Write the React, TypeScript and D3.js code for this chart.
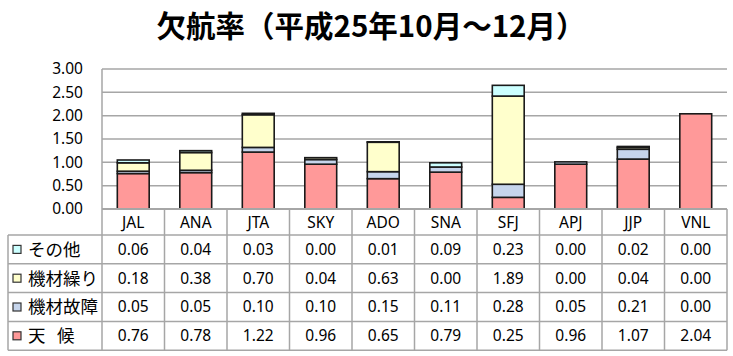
import React from "react";
import * as d3 from "d3";

const categories = ["JAL", "ANA", "JTA", "SKY", "ADO", "SNA", "SFJ", "APJ", "JJP", "VNL"];
const weather = [0.76, 0.78, 1.22, 0.96, 0.65, 0.79, 0.25, 0.96, 1.07, 2.04];
const failure = [0.05, 0.05, 0.10, 0.10, 0.15, 0.11, 0.28, 0.05, 0.21, 0.00];
const rotation = [0.18, 0.38, 0.70, 0.04, 0.63, 0.00, 1.89, 0.00, 0.04, 0.00];
const other = [0.06, 0.04, 0.03, 0.00, 0.01, 0.09, 0.23, 0.00, 0.02, 0.00];
const yTicks = [0, 0.5, 1, 1.5, 2, 2.5, 3];
const title = "欠航率（平成25年10月～12月）";

const seriesNames = ["天候", "機材故障", "機材繰り", "その他"];
const seriesValues = [weather, failure, rotation, other];
const seriesColors = ["#FF9999", "#C6D5EC", "#FFFFCC", "#CCFFFF"];
const tableOrder = [3, 2, 1, 0];

export default function App() {
  const W = 733, H = 356;
  const plotL = 102, plotR = 727, plotT = 69, plotB = 209;
  const x = d3.scaleBand<string>().domain(categories).range([plotL, plotR]).paddingInner(0.49).paddingOuter(0.245);
  const xCol = d3.scaleBand<string>().domain(categories).range([plotL, plotR]);
  const y = d3.scaleLinear().domain([0, 3]).range([plotB, plotT]);

  const table = categories.map((c, i) => {
    const o: any = { cat: c };
    seriesNames.forEach((s, k) => (o[s] = seriesValues[k][i]));
    return o;
  });
  const stack = d3.stack<any>().keys(seriesNames)(table);

  const headerT = plotB, headerB = 235;
  const rowH = 28.8;
  const tableL = 8;
  const rowsY = tableOrder.map((_, r) => headerB + r * rowH);
  const tableB = headerB + 4 * rowH;
  const grid = "#A6A6A6";
  const numFont = "'Noto Sans', 'Open Sans', sans-serif";
  const cjkFont = "'Noto Sans CJK JP', sans-serif";

  return (
    <svg width={W} height={H} style={{ position: "absolute", left: 0, top: 0, background: "#fff" }}>
      <text x={371} y={37} textAnchor="middle" fontFamily={cjkFont} fontWeight="bold" fontSize={29.5} fill="#000">
        {title}
      </text>
      {yTicks.map((t) => (
        <g key={t}>
          {t > 0 && <line x1={plotL} x2={plotR} y1={y(t)} y2={y(t)} stroke={grid} strokeWidth={1.5} />}
          <text x={83} y={y(t)} dy="0.35em" textAnchor="end" fontFamily={numFont} fontSize={15.5} fill="#000">
            {t.toFixed(2)}
          </text>
        </g>
      ))}
      <line x1={plotL} x2={plotL} y1={plotT} y2={tableB} stroke={grid} strokeWidth={1.5} />
      {stack.map((layer, k) => (
        <g key={k}>
          {layer.map((d, i) =>
            d[1] - d[0] > 0 ? (
              <rect
                key={i}
                x={x(categories[i])!}
                width={x.bandwidth()}
                y={y(d[1])}
                height={y(d[0]) - y(d[1])}
                fill={seriesColors[k]}
                stroke="#1a1a1a"
                strokeWidth={1.6}
              />
            ) : null
          )}
        </g>
      ))}
      {/* table grid */}
      <line x1={plotL} x2={plotR} y1={plotB} y2={plotB} stroke={grid} strokeWidth={2} />
      {rowsY.map((ry, r) => (
        <line key={r} x1={tableL} x2={plotR} y1={ry} y2={ry} stroke={grid} strokeWidth={1.5} />
      ))}
      <line x1={tableL} x2={plotR} y1={tableB} y2={tableB} stroke={grid} strokeWidth={1.5} />
      <line x1={tableL} x2={tableL} y1={headerB} y2={tableB} stroke={grid} strokeWidth={1.5} />
      {categories.map((c) => (
        <line key={c} x1={xCol(c)! + xCol.bandwidth()} x2={xCol(c)! + xCol.bandwidth()} y1={headerT} y2={tableB} stroke={grid} strokeWidth={1.5} />
      ))}
      {categories.map((c) => (
        <text key={c} x={xCol(c)! + xCol.bandwidth() / 2} y={(headerT + headerB) / 2 + 1} dy="0.35em" textAnchor="middle" fontFamily={numFont} fontSize={15.5} fill="#000">
          {c}
        </text>
      ))}
      {tableOrder.map((k, r) => {
        const cy = rowsY[r] + rowH / 2;
        return (
          <g key={k}>
            <rect x={13} y={cy - 4} width={8} height={8} fill={seriesColors[k]} stroke="#333" strokeWidth={1.2} />
            {seriesNames[k] === "天候" ? (
              <text y={cy} dy="0.36em" fontFamily={cjkFont} fontSize={17.5} fill="#000">
                <tspan x={28}>天</tspan>
                <tspan x={57}>候</tspan>
              </text>
            ) : (
              <text x={28} y={cy} dy="0.36em" fontFamily={cjkFont} fontSize={17.5} fill="#000">
                {seriesNames[k]}
              </text>
            )}
            {categories.map((c, i) => (
              <text key={c} x={xCol(c)! + xCol.bandwidth() / 2} y={cy} dy="0.35em" textAnchor="middle" fontFamily={numFont} fontSize={15.5} fill="#000">
                {seriesValues[k][i].toFixed(2)}
              </text>
            ))}
          </g>
        );
      })}
    </svg>
  );
}
